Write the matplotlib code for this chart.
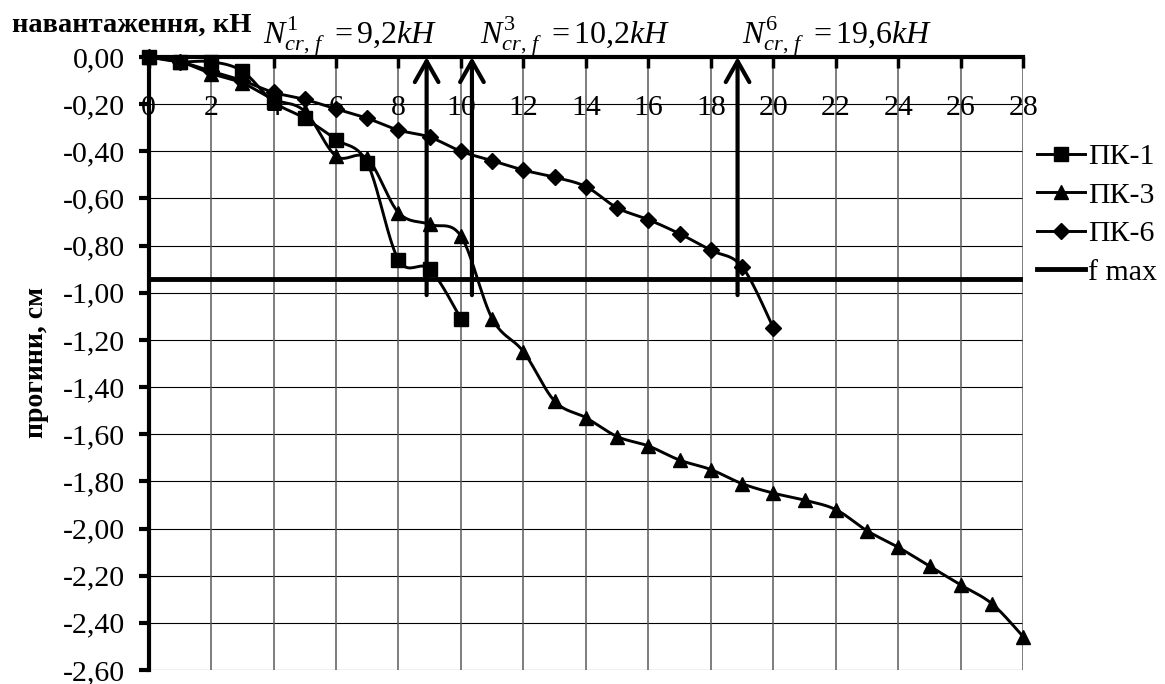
import numpy as np
import matplotlib
matplotlib.use("Agg")
import matplotlib.pyplot as plt
from matplotlib.lines import Line2D

plt.rcParams['font.family'] = ['Liberation Serif', 'DejaVu Serif']
plt.rcParams['mathtext.fontset'] = 'custom'
plt.rcParams['mathtext.rm'] = 'Liberation Serif'
plt.rcParams['mathtext.it'] = 'Liberation Serif:italic'
plt.rcParams['mathtext.bf'] = 'Liberation Serif:bold'

# ---------------- data ----------------
pk1_x = [0, 1, 2, 3, 4, 5, 6, 7, 8, 9, 10]
pk1_y = [0.00, -0.02, -0.02, -0.06, -0.19, -0.26, -0.35, -0.45, -0.86, -0.90, -1.11]

pk3_x = list(range(0, 29))
pk3_y = [0.00, -0.02, -0.07, -0.11, -0.18, -0.23, -0.42, -0.43, -0.66, -0.71,
         -0.76, -1.11, -1.25, -1.46, -1.53, -1.61, -1.65, -1.71, -1.75, -1.81,
         -1.85, -1.88, -1.92, -2.01, -2.08, -2.16, -2.24, -2.32, -2.46]

pk6_x = list(range(0, 21))
pk6_y = [0.00, -0.02, -0.06, -0.10, -0.15, -0.18, -0.22, -0.26, -0.31, -0.34,
         -0.40, -0.44, -0.48, -0.51, -0.55, -0.64, -0.69, -0.75, -0.82, -0.89,
         -1.15]

f_max = -0.94

arrow_x = [8.9, 10.35, 18.85]
arrow_bottom = -1.01
arrow_labels = [r'$N^{1}_{cr,\,f}\ =9{,}2kH$',
                r'$N^{3}_{cr,\,f}\ =10{,}2kH$',
                r'$N^{6}_{cr,\,f}\ =19{,}6kH$']

series_names = ['ПК-1', 'ПК-3', 'ПК-6', 'f max']

x_ticks = list(range(0, 29, 2))
x_tick_labels = ['0', '2', '4', '6', '8', '10', '12', '14', '16', '18', '20',
                 '22', '24', '26', '28']
y_ticks = [0.0, -0.2, -0.4, -0.6, -0.8, -1.0, -1.2, -1.4, -1.6, -1.8, -2.0,
           -2.2, -2.4, -2.6]
y_tick_labels = ['0,00', '-0,20', '-0,40', '-0,60', '-0,80', '-1,00', '-1,20',
                 '-1,40', '-1,60', '-1,80', '-2,00', '-2,20', '-2,40', '-2,60']

x_title = 'навантаження, кН'
y_title = 'прогини, см'


def smooth(xs, ys, n=24):
    P = np.column_stack([np.asarray(xs, float), np.asarray(ys, float)])
    out = [P[0]]
    t = np.linspace(0, 1, n)[1:, None]
    for i in range(len(P) - 1):
        p0 = P[i - 1] if i > 0 else P[i]
        p1 = P[i]
        p2 = P[i + 1]
        p3 = P[i + 2] if i + 2 < len(P) else P[i + 1]
        c1 = p1 + (p2 - p0) / 6.0
        c2 = p2 - (p3 - p1) / 6.0
        B = ((1 - t) ** 3) * p1 + 3 * ((1 - t) ** 2) * t * c1 \
            + 3 * (1 - t) * t ** 2 * c2 + t ** 3 * p2
        out.extend(B)
    out = np.array(out)
    return out[:, 0], out[:, 1]


W, H = 1165, 684
fig = plt.figure(figsize=(W / 100, H / 100), dpi=100)
x0, x1, y0, y1 = 148.5, 1023.5, 57, 670
ax = fig.add_axes([x0 / W, 1 - y1 / H, (x1 - x0) / W, (y1 - y0) / H])

ax.set_xlim(0, 28)
ax.set_ylim(-2.6, 0)

# grid
for yt in y_ticks:
    ax.axhline(yt, color='black', lw=0.8, zorder=1)
for xt in x_ticks:
    ax.axvline(xt, color='#5a5a5a', lw=1.1, zorder=1)

lw = 2.1
ms = 9.5
for xs, ys, mk, msz in [(pk1_x, pk1_y, 's', ms), (pk3_x, pk3_y, '^', ms + 0.5),
                        (pk6_x, pk6_y, 'D', ms - 1.5)]:
    sx, sy = smooth(xs, ys)
    ax.plot(sx, sy, color='black', lw=lw, zorder=3, solid_capstyle='round')
    ax.plot(xs, ys, ls='none', marker=mk, ms=msz, color='black', zorder=4,
            clip_on=False)

ax.axhline(f_max, color='black', lw=3.5, zorder=3)

# arrows
for xa in arrow_x:
    ax.annotate('', xy=(xa, 0), xytext=(xa, arrow_bottom),
                arrowprops=dict(arrowstyle='->,head_length=1.5,head_width=0.85',
                                lw=3, color='black', shrinkA=0, shrinkB=0,
                                mutation_scale=10),
                annotation_clip=False, zorder=5)

# arrow labels
label_left = [3.66, 10.6, 19.0]
for xl, txt in zip(label_left, arrow_labels):
    ax.text(xl, 1.0228, txt, transform=ax.get_xaxis_transform(),
            ha='left', va='baseline', fontsize=23)

# spines
for s in ['right', 'bottom']:
    ax.spines[s].set_visible(False)
ax.spines['left'].set_linewidth(3)
ax.spines['top'].set_linewidth(3)
ax.spines['left'].set_zorder(6)
ax.spines['top'].set_zorder(6)

ax.xaxis.set_ticks_position('top')
ax.set_xticks(x_ticks)
ax.set_xticklabels(x_tick_labels)
ax.tick_params(axis='x', direction='in', length=8, width=2.5, pad=-46,
               labelsize=21.5, top=True, bottom=False, labeltop=True,
               labelbottom=False)
ax.set_yticks(y_ticks)
ax.set_yticklabels(y_tick_labels)
ax.tick_params(axis='y', direction='out', length=7, width=3, pad=10,
               labelsize=21.5)

fig.text(12 / W, 1 - 25 / H, x_title, ha='left', va='center',
         fontweight='bold', fontsize=20.5)
fig.text(37 / W, 1 - 362 / H, y_title, ha='center', va='center',
         rotation=90, fontweight='bold', fontsize=20)

handles = [
    Line2D([], [], color='black', lw=lw, marker='s', ms=ms),
    Line2D([], [], color='black', lw=lw, marker='^', ms=ms + 0.5),
    Line2D([], [], color='black', lw=lw, marker='D', ms=ms - 1.5),
    Line2D([], [], color='black', lw=3.5),
]
fig.legend(handles, series_names, loc='center left',
           bbox_to_anchor=(1037 / W, 1 - 214.5 / H), frameon=False,
           fontsize=21.5, handlelength=1.6, handletextpad=0.1,
           labelspacing=0.39, borderpad=0, borderaxespad=0)

fig.savefig('out.png', dpi=100)
